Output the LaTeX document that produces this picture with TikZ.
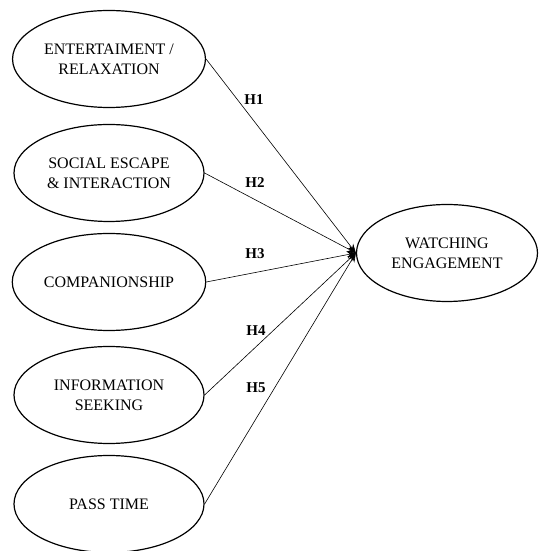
\documentclass[tikz,border=0pt]{standalone}
\usepackage{fontspec}
\setmainfont{Liberation Serif}
\usetikzlibrary{shapes.geometric}
\usetikzlibrary{arrows.meta}
\newcommand{\hyp}[1]{\textbf{H#1}}
\newcommand{\widthfactor}{190pt}
\newcommand{\widthoutcome}{181pt}
\tikzset{
    common/.style={draw, ellipse, line width=1.2pt, minimum height=97pt, align=center, font=\fontsize{16}{20}\selectfont},
    factor/.style={common, minimum width=\widthfactor},
    outcome/.style={common, minimum width=\widthoutcome},
    link/.style={-{Stealth[length=9pt, width=7pt]}, line width=0.6pt},
    hlabel/.style={font=\fontsize{15}{17}\selectfont}
}
\begin{document}
\begin{tikzpicture}[x=1pt, y=1pt]
    \useasboundingbox (0,0) rectangle (538,551);
    \path
        node[factor] (ent) at (109,492) {ENTERTAIMENT /\\RELAXATION}
        node[factor] (soc) at (109,378) {SOCIAL ESCAPE\\\& INTERACTION}
        node[factor] (com) at (109,269) {COMPANIONSHIP}
        node[factor] (inf) at (109,156) {INFORMATION\\SEEKING}
        node[factor] (pas) at (109,47) {PASS TIME};

    \node[outcome] (eng) at (447,298) {WATCHING\\ENGAGEMENT};

    \node[hlabel] (h1) at (254,451) {\hyp{1}};
    \node[hlabel] (h2) at (255,368) {\hyp{2}};
    \node[hlabel] (h3) at (255,297) {\hyp{3}};
    \node[hlabel] (h4) at (256,220) {\hyp{4}};
    \node[hlabel] (h5) at (256,163) {\hyp{5}};

    \draw[link] (ent.east) -- (eng.west);
    \draw[link] (soc.east) -- (eng.west);
    \draw[link] (com.east) -- (eng.west);
    \draw[link] (inf.east) -- (eng.west);
    \draw[link] (pas.east) -- (eng.west);
\end{tikzpicture}
\end{document}
